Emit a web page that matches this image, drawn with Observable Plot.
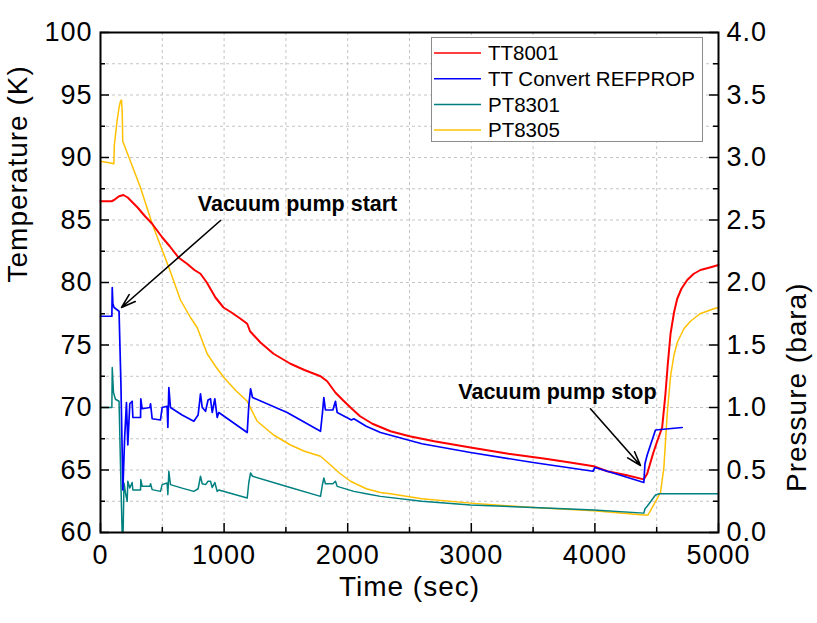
<!DOCTYPE html>
<html><head><meta charset="utf-8">
<script src="https://cdn.jsdelivr.net/npm/d3@7"></script>
<script src="https://cdn.jsdelivr.net/npm/@observablehq/plot@0.6"></script>
<style>
body{margin:0;background:#fff;}
#wrap{position:relative;width:817px;height:623px;}
#legend{position:absolute;left:431px;top:37px;}
svg text{font-family:"Liberation Sans",Arial,sans-serif;}
.tl text{letter-spacing:1px;}
</style></head><body><div id="wrap"></div>
<script>
// ---- data ----
const seriesNames = ["TT8001", "TT Convert REFPROP", "PT8301", "PT8305"];
const seriesColors = ["#ff0000", "#0000ff", "#008080", "#ffc000"];

// [time (sec), temperature (K)]
const tt8001 = [[0,86.5],[90,86.5],[110,86.6],[150,86.9],[185,87.0],[220,86.8],[260,86.4],[300,86.0],[360,85.3],[418,84.7],[500,83.6],[560,82.9],[631,82.0],[700,81.5],[760,81.0],[809,80.7],[860,80.0],[930,78.8],[995,78.0],[1060,77.6],[1133,77.1],[1187,76.7],[1210,76.1],[1294,75.2],[1400,74.3],[1537,73.5],[1650,73.0],[1780,72.5],[1834,72.1],[1900,71.2],[1960,70.6],[2023,70.0],[2100,69.3],[2200,68.7],[2346,68.1],[2500,67.7],[2700,67.3],[2994,66.8],[3300,66.3],[3600,65.9],[3800,65.6],[3990,65.3],[4100,64.9],[4250,64.6],[4395,64.25],[4423,64.7],[4470,66.3],[4504,67.3],[4544,68.4],[4570,71.0],[4590,73.5],[4612,75.9],[4640,77.6],[4666,78.7],[4700,79.5],[4747,80.2],[4800,80.7],[4854,81.0],[4930,81.2],[5000,81.4]];

// [time (sec), temperature (K)]
const ttConvert = [[0,77.3],[92,77.3],[95,79.6],[100,78.3],[110,78.0],[150,77.7],[165,72.0],[181,63.4],[195,67.5],[210,70.4],[221,67.0],[237,70.3],[256,70.5],[262,69.2],[324,69.2],[326,70.7],[337,69.9],[400,70.0],[405,70.3],[418,69.1],[485,69.0],[499,70.0],[539,70.1],[545,68.4],[553,71.6],[566,70.0],[660,69.4],[755,68.9],[790,69.4],[809,71.1],[823,70.0],[850,69.7],[870,70.6],[890,70.7],[904,69.6],[925,70.7],[944,69.2],[957,69.6],[1187,68.0],[1200,70.2],[1214,71.5],[1230,70.8],[1510,69.6],[1780,68.1],[1795,69.5],[1807,70.8],[1820,69.8],[1880,69.8],[1901,70.5],[1915,69.6],[2030,69.0],[2050,69.1],[2150,68.5],[2265,68.0],[2600,67.1],[2994,66.4],[3500,65.6],[3985,64.9],[4000,65.2],[4200,64.6],[4396,64.0],[4405,65.5],[4423,66.2],[4490,68.2],[4706,68.4]];

// [time (sec), pressure (bara)]
const pt8301 = [[0,1.0],[92,1.0],[95,1.32],[105,1.12],[121,1.066],[150,1.05],[165,0.4],[175,0.0],[183,0.0],[190,0.396],[205,0.30],[216,0.249],[221,0.41],[237,0.356],[256,0.40],[262,0.34],[324,0.34],[326,0.423],[337,0.37],[400,0.37],[405,0.39],[418,0.343],[485,0.329],[499,0.383],[539,0.396],[545,0.303],[553,0.49],[566,0.383],[660,0.355],[755,0.329],[790,0.35],[809,0.45],[823,0.39],[850,0.383],[870,0.41],[890,0.41],[904,0.36],[925,0.40],[944,0.329],[957,0.34],[1187,0.276],[1200,0.40],[1214,0.476],[1230,0.45],[1500,0.37],[1780,0.289],[1795,0.38],[1807,0.436],[1820,0.39],[1880,0.39],[1901,0.41],[1915,0.369],[2050,0.329],[2150,0.31],[2265,0.289],[2600,0.25],[2994,0.22],[3500,0.20],[3991,0.18],[4396,0.155],[4405,0.19],[4423,0.21],[4490,0.30],[4520,0.31],[5000,0.31]];

// [time (sec), pressure (bara)]
const pt8305 = [[0,2.97],[60,2.96],[108,2.95],[112,3.1],[135,3.30],[150,3.40],[162,3.45],[170,3.46],[176,3.35],[180,3.13],[250,2.95],[323,2.76],[418,2.47],[553,2.12],[647,1.86],[728,1.72],[782,1.64],[863,1.43],[930,1.33],[998,1.24],[1100,1.13],[1187,1.05],[1268,0.89],[1400,0.78],[1537,0.70],[1650,0.65],[1780,0.61],[1861,0.54],[1940,0.47],[2023,0.41],[2150,0.35],[2265,0.32],[2346,0.31],[2600,0.27],[2994,0.235],[3500,0.20],[3991,0.174],[4396,0.14],[4430,0.14],[4531,0.32],[4558,0.52],[4585,0.95],[4612,1.25],[4640,1.42],[4666,1.52],[4720,1.63],[4773,1.69],[4850,1.75],[4962,1.79],[5000,1.80]];

const timeTicks = [0,1000,2000,3000,4000,5000];
const timeMinor = [500,1500,2500,3500,4500];
const tempTicks = [60,65,70,75,80,85,90,95,100];
const tempMinor = [62.5,67.5,72.5,77.5,82.5,87.5,92.5,97.5];
const pressTicks = [0.0,0.5,1.0,1.5,2.0,2.5,3.0,3.5,4.0];
const pressMinor = [0.25,0.75,1.25,1.75,2.25,2.75,3.25,3.75];
const gridTime = [500,1000,1500,2000,2500,3000,3500,4000,4500];
const gridTemp = [62.5,65,67.5,70,72.5,75,77.5,80,82.5,85,87.5,90,92.5,95,97.5];

const notes = [
  {label:"Vacuum pump start", x:1594, y:86.3},
  {label:"Vacuum pump stop", x:3697, y:71.2}
];
const arrows = [
  {x1:971, y1:84.96, x2:170, y2:78.0},
  {x1:3964, y1:69.9, x2:4369, y2:65.36}
];

// ---- chart ----
const W = 817, H = 623, mL = 100, mR = 99, mT = 32, mB = 91;
const fw = W - mL - mR, fh = H - mT - mB;
const p2t = p => 60 + 10 * p;   // pressure axis shares the frame: 0..4 bara <-> 60..100 K
const FONT = 27;

const chart = Plot.plot({
  width: W, height: H,
  marginLeft: mL, marginRight: mR, marginTop: mT, marginBottom: mB,
  x: {domain: [0, 5000]},
  y: {domain: [60, 100]},
  style: {fontFamily: '"Liberation Sans", Arial, sans-serif', color: "#000", background: "#fff"},
  marks: [
    Plot.ruleX(gridTime, {x: d => d, stroke: "#c4c4c4", strokeDasharray: "3,3", strokeWidth: 1}),
    Plot.ruleY(gridTemp, {y: d => d, stroke: "#c4c4c4", strokeDasharray: "3,3", strokeWidth: 1}),
    Plot.line(pt8305, {x: d => d[0], y: d => p2t(d[1]), stroke: seriesColors[3], strokeWidth: 1.5}),
    Plot.line(pt8301, {x: d => d[0], y: d => p2t(d[1]), stroke: seriesColors[2], strokeWidth: 1.5}),
    Plot.line(tt8001, {x: d => d[0], y: d => d[1], stroke: seriesColors[0], strokeWidth: 2}),
    Plot.line(ttConvert, {x: d => d[0], y: d => d[1], stroke: seriesColors[1], strokeWidth: 1.7}),
    // inward ticks
    Plot.tickY(tempTicks, {y: d => d, insetRight: fw - 9, stroke: "#000", strokeWidth: 1.5}),
    Plot.tickY(tempMinor, {y: d => d, insetRight: fw - 5, stroke: "#000", strokeWidth: 1.5}),
    Plot.tickY(pressTicks.map(p2t), {y: d => d, insetLeft: fw - 9, stroke: "#000", strokeWidth: 1.5}),
    Plot.tickY(pressMinor.map(p2t), {y: d => d, insetLeft: fw - 5, stroke: "#000", strokeWidth: 1.5}),
    Plot.tickX(timeTicks, {x: d => d, insetTop: fh - 9, stroke: "#000", strokeWidth: 1.5}),
    Plot.tickX(timeMinor, {x: d => d, insetTop: fh - 5, stroke: "#000", strokeWidth: 1.5}),
    Plot.frame({stroke: "#000", strokeWidth: 2}),
    // tick labels
    Plot.axisY(tempTicks, {anchor: "left", tickSize: 0, tickPadding: 8, fontSize: FONT, tickFormat: d => String(d), className: "tl"}),
    Plot.axisY(pressTicks.map(p2t), {anchor: "right", tickSize: 0, tickPadding: 8, fontSize: FONT, tickFormat: d => ((d - 60) / 10).toFixed(1), className: "tl"}),
    Plot.axisX(timeTicks, {anchor: "bottom", tickSize: 0, tickPadding: 12, fontSize: FONT, tickFormat: d => String(d), className: "tl"}),
    // axis titles
    Plot.text(["Time (sec)"], {frameAnchor: "bottom", lineAnchor: "middle", dy: 55, fontSize: 28, className: "tl"}),
    Plot.text(["Temperature (K)"], {frameAnchor: "left", dx: -82, rotate: -90, fontSize: 28, className: "tl"}),
    Plot.text(["Pressure (bara)"], {frameAnchor: "right", dx: 79, rotate: -90, fontSize: 28, className: "tl"}),
    // annotations
    Plot.arrow(arrows, {x1: "x1", y1: "y1", x2: "x2", y2: "y2", stroke: "#000", strokeWidth: 1.6, headLength: 14, headAngle: 36}),
    Plot.text(notes, {x: "x", y: "y", text: "label", fontSize: 21.5, fontWeight: "bold", fill: "#000"})
  ]
});

const wrap = document.getElementById("wrap");
wrap.appendChild(chart);

// legend (inside the plot frame, top-right)
const lg = d3.select(wrap).append("svg").attr("id", "legend").attr("width", 273).attr("height", 106);
lg.append("rect").attr("x", 0.5).attr("y", 0.5).attr("width", 271).attr("height", 104)
  .attr("fill", "#fff").attr("stroke", "#8c8c8c").attr("stroke-width", 1);
seriesNames.forEach((n, i) => {
  const cy = 16 + i * 25.7;
  lg.append("line").attr("x1", 3).attr("x2", 50).attr("y1", cy).attr("y2", cy)
    .attr("stroke", seriesColors[i]).attr("stroke-width", 1.5);
  lg.append("text").attr("x", 57).attr("y", cy).attr("dy", "0.36em")
    .attr("font-size", 20.5).attr("fill", "#000").text(n);
});
</script></body></html>
